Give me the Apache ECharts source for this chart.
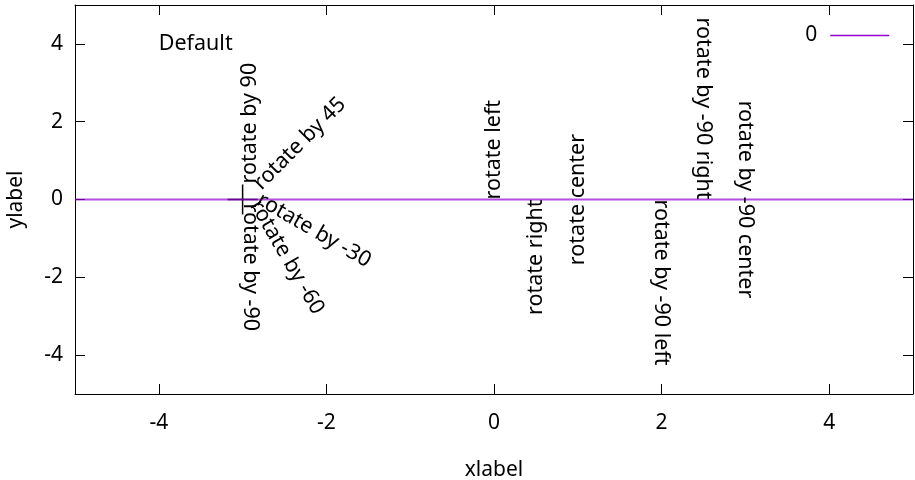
<!DOCTYPE html>
<html>
<head>
<meta charset="utf-8">
<script src="https://cdn.jsdelivr.net/npm/echarts@6/dist/echarts.min.js"></script>
<style>html,body{margin:0;padding:0;background:#fff}#c{width:915px;height:480px}</style>
</head>
<body>
<div id="c"></div>
<script>
// ---- data ----
const xTicks = [-4, -2, 0, 2, 4];
const yTicks = [-4, -2, 0, 2, 4];
const lineX = [-5, 5];
const lineY = [0, 0];
const seriesName = '0';
const defaultLabel = 'Default';
const defaultPos = [-4, 4];
const pointPos = [-3, 0];
const pointLabels = ['rotate by 90', 'rotate by 45', 'rotate by -30', 'rotate by -60', 'rotate by -90'];
const pointAngles = [90, 45, -30, -60, -90];
const justLabels = ['rotate left', 'rotate right', 'rotate center', 'rotate by -90 left', 'rotate by -90 right', 'rotate by -90 center'];
const justX = [0, 0.5, 1, 2, 2.5, 3];
const justY = [0, 0, 0, 0, 0, 0];
const justAngles = [90, 90, 90, -90, -90, -90];
const justAlign = ['left', 'right', 'center', 'left', 'right', 'center'];

// ---- style ----
const FONT = 'Noto Sans';
const FS = 21.5;
const txt = { color: '#000', fontFamily: FONT, fontSize: FS };
const tickTxt = { color: '#000', fontFamily: FONT, fontSize: 21 };

// offset of point labels (screen shift + padding along text direction)
const SX = 7.4, SY = -6, PAD = 10;
function pointOffset(deg) {
  const t = deg * Math.PI / 180;
  const c = Math.cos(t), s = Math.sin(t);
  return [PAD + SX * c - SY * s, SX * s + SY * c];
}

const lbl = (name, extra) => ({
  show: true, position: 'inside', formatter: name, opacity: 1,
  textBorderWidth: 0, verticalAlign: 'middle', ...txt, ...extra
});
const pointData = pointLabels.map((name, i) => ({
  value: pointPos, name: name,
  label: lbl(name, { rotate: pointAngles[i], align: 'left', offset: pointOffset(pointAngles[i]) })
}));
const justData = justLabels.map((name, i) => ({
  value: [justX[i], justY[i]], name: name,
  label: lbl(name, { rotate: justAngles[i], align: justAlign[i] })
}));
const defData = [{
  value: defaultPos, name: defaultLabel,
  label: lbl(defaultLabel, { align: 'left' })
}];

const axisCommon = {
  type: 'value', min: -5, max: 5,
  axisLine: { show: true, onZero: false, lineStyle: { color: '#000', width: 1 } },
  splitLine: { show: false }
};
const tick = (vals) => ({ show: true, inside: true, length: 10, customValues: vals, lineStyle: { color: '#000', width: 1 } });

const chart = echarts.init(document.getElementById('c'), null, { renderer: 'canvas' });
chart.setOption({
  animation: false,
  backgroundColor: '#fff',
  grid: { left: 75, right: 2, top: 5, bottom: 86, containLabel: false, outerBoundsMode: 'none' },
  legend: {
    data: [seriesName], right: 25, top: 25, padding: 0, align: 'right',
    itemWidth: 59, itemHeight: 14,
    textStyle: { ...tickTxt, padding: [0, 8, 0, 0] },
    lineStyle: { color: '#9400d3', width: 1.5 },
    itemStyle: { color: 'rgba(0,0,0,0)', borderWidth: 0, opacity: 0 }
  },
  xAxis: [
    { ...axisCommon, position: 'bottom', axisTick: tick(xTicks),
      axisLabel: { show: true, customValues: xTicks, margin: 19, ...tickTxt },
      name: 'xlabel', nameLocation: 'middle', nameGap: 66, nameTextStyle: tickTxt },
    { ...axisCommon, position: 'top', axisTick: tick(xTicks), axisLabel: { show: false } }
  ],
  yAxis: [
    { ...axisCommon, position: 'left', axisTick: tick(yTicks),
      axisLabel: { show: true, customValues: yTicks, margin: 12, ...tickTxt },
      name: 'ylabel', nameLocation: 'middle', nameGap: 48, nameTextStyle: tickTxt },
    { ...axisCommon, position: 'right', axisTick: tick(yTicks), axisLabel: { show: false } }
  ],
  series: [
    {
      type: 'scatter', name: 'pointV', symbol: 'rect', symbolSize: [1.5, 30],
      itemStyle: { color: '#000', opacity: 1 }, data: [pointPos], z: 1, silent: true
    },
    {
      type: 'scatter', name: 'pointH', symbol: 'rect', symbolSize: [30, 1.5],
      itemStyle: { color: '#000', opacity: 1 }, data: [pointPos], z: 1, silent: true
    },
    {
      type: 'line', name: seriesName, data: lineX.map((x, i) => [x, lineY[i]]),
      symbol: 'none', showSymbol: false, color: '#9400d3',
      lineStyle: { color: 'rgba(148,0,211,0.7)', width: 2 }, z: 2, silent: true
    },
    {
      type: 'scatter', name: 'labels', symbolSize: 1, itemStyle: { color: 'rgba(0,0,0,0)', opacity: 1 },
      data: defData.concat(pointData, justData), z: 3, silent: true
    }
  ]
});
</script>
</body>
</html>
